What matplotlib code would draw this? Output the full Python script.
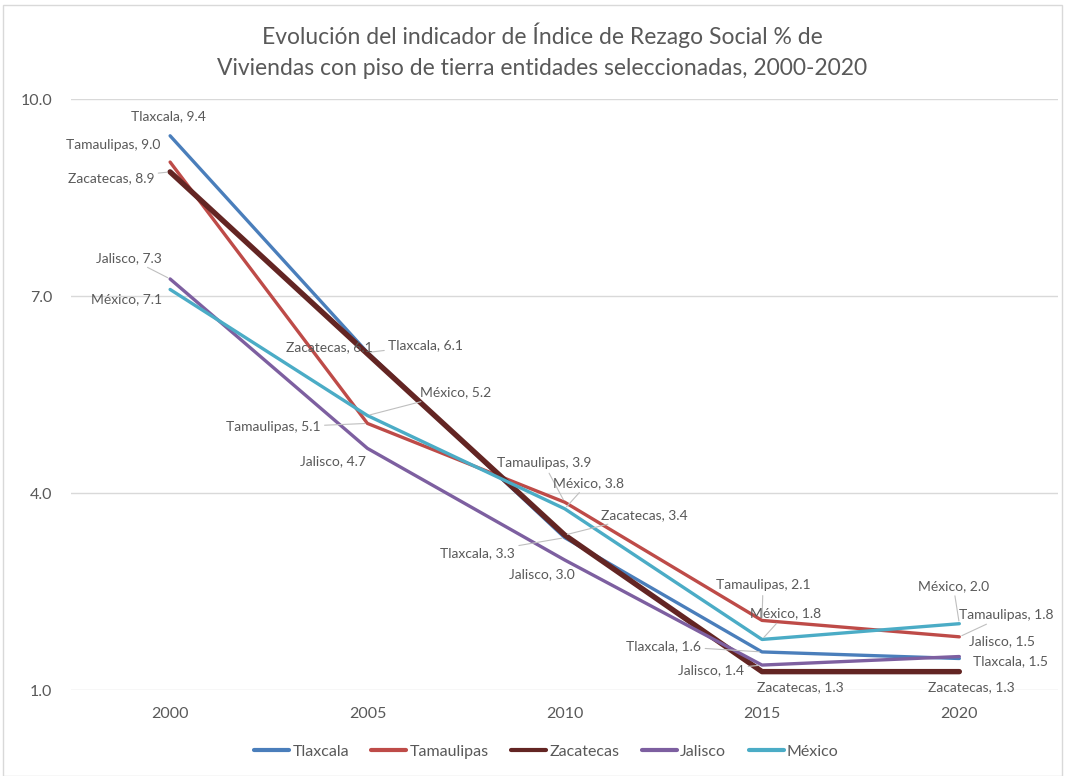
import matplotlib
matplotlib.use("Agg")
import numpy as np
import matplotlib.pyplot as plt
from matplotlib.patches import Rectangle

# datos: % de viviendas con piso de tierra
years = ["2000", "2005", "2010", "2015", "2020"]
tlaxcala = [9.44, 6.14, 3.32, 1.58, 1.48]
tamaulipas = [9.04, 5.06, 3.86, 2.06, 1.81]
zacatecas = [8.89, 6.12, 3.36, 1.28, 1.28]
jalisco = [7.26, 4.68, 2.98, 1.38, 1.51]
mexico = [7.10, 5.18, 3.76, 1.77, 2.01]

names = ["Tlaxcala", "Tamaulipas", "Zacatecas", "Jalisco", "México"]
series = [tlaxcala, tamaulipas, zacatecas, jalisco, mexico]
colors = ["#4a7ebb", "#be4b48", "#632523", "#7d5fa0", "#4bacc6"]
widths = [2.4, 2.4, 3.9, 2.4, 2.4]

# label offsets in pixels (dx, dy, ha, leader)
offsets = {
    "Tlaxcala":   [(-2, 20, "center", False), (21, 7, "left", True), (-50, -15, "right", True),
                   (-61, 6, "right", True), (14, -3, "left", False)],
    "Tamaulipas": [(-10, 17, "right", False), (-47, -4, "right", True), (-21, 39, "center", True),
                   (1, 35, "center", True), (0, 22, "left", True)],
    "Zacatecas":  [(-16, -6, "right", True), (5, 7, "right", False), (36, 20, "left", True),
                   (38, -16, "center", False), (12, -16, "center", False)],
    "Jalisco":    [(-41, 21, "center", True), (-2, -13, "right", False), (-23, -14, "center", False),
                   (-18, -5, "right", True), (10, 15, "left", False)],
    "México":     [(-8, -10, "right", False), (53, 23, "left", True), (-12, 26, "left", True),
                   (-12, 26, "left", True), (-6, 38, "center", True)],
}

plt.rcParams['font.family'] = ['Lato', 'DejaVu Sans']
txt = "#595959"

fig = plt.figure(figsize=(10.65, 7.76), dpi=100)
ax = fig.add_axes([0.0671, 0.1108, 0.9263, 0.7616])

x = np.arange(len(years))
for name, vals, c, lw in zip(names, series, colors, widths):
    ax.plot(x, vals, color=c, lw=lw, label=name, solid_capstyle='round',
            solid_joinstyle='round', zorder=3)
    for i, v in enumerate(vals):
        dx, dy, ha, lead = offsets[name][i]
        arrow = dict(arrowstyle='-', color='#bfbfbf', lw=0.8, shrinkA=1, shrinkB=2) if lead else None
        ax.annotate("%s, %.1f" % (name, v), xy=(i, v), xytext=(dx, dy),
                    textcoords='offset pixels', ha=ha, va='center', fontsize=10,
                    color=txt, arrowprops=arrow, zorder=4)

ax.set_xlim(-0.5, len(years) - 0.5)
ax.set_ylim(1, 10)
ax.set_yticks([1, 4, 7, 10])
ax.set_yticklabels(["%.1f" % t for t in [1, 4, 7, 10]])
ax.set_xticks(x)
ax.set_xticklabels(years)
ax.tick_params(length=0, labelsize=11.5, labelcolor=txt)
ax.tick_params(axis='x', pad=12)
ax.tick_params(axis='y', pad=14)
ax.grid(axis='y', color='#d9d9d9', lw=1)
ax.set_axisbelow(True)
for s in ax.spines.values():
    s.set_visible(False)

fig.text(0.509, 0.955, "Evolución del indicador de Índice de Rezago Social % de",
         ha='center', va='center', fontsize=16.5, color=txt)
fig.text(0.509, 0.912, "Viviendas con piso de tierra entidades seleccionadas, 2000-2020",
         ha='center', va='center', fontsize=16.5, color=txt)

leg = fig.legend(loc='center', bbox_to_anchor=(0.513, 0.031), ncol=5, frameon=False,
                 fontsize=11.5, handlelength=2.2, handletextpad=0.2, columnspacing=1.4)
for t in leg.get_texts():
    t.set_color(txt)
for h in leg.get_lines():
    h.set_linewidth(3)

fig.patches.append(Rectangle((0.003, 0.0), 0.994, 0.993, transform=fig.transFigure,
                             fill=False, edgecolor='#d9d9d9', lw=1))

plt.savefig("out.png", dpi=100)
